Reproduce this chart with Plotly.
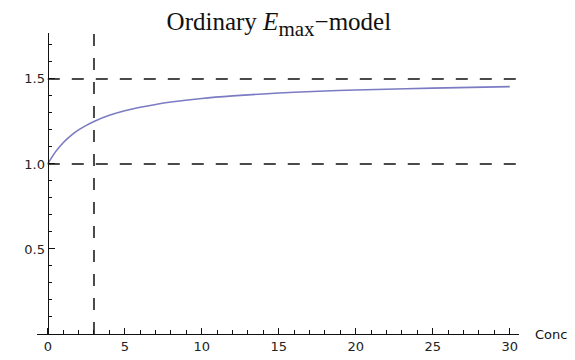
import plotly.graph_objects as go

# Data
conc = [0, 0.5, 1, 1.5, 2, 2.5, 3, 4, 5, 6, 7, 8, 10, 12, 15, 18, 20, 25, 30]
effect = [1.0, 1.071, 1.125, 1.167, 1.2, 1.227, 1.25, 1.286, 1.3125, 1.333, 1.35,
          1.364, 1.385, 1.4, 1.417, 1.429, 1.435, 1.446, 1.4545]
hlines = [1.0, 1.5]
vline = 3
xticks = [0, 5, 10, 15, 20, 25, 30]
yticks = [0.5, 1.0, 1.5]

XMIN, XMAX = -0.7, 30.6
YMIN, YMAX = 0, 1.77

fig = go.Figure()
fig.add_trace(go.Scatter(x=conc, y=effect, mode="lines", line_shape="spline",
                         line=dict(color="#7b7bc4", width=1.6), hoverinfo="skip",
                         showlegend=False))

dash_style = dict(color="#4a4a4a", width=2, dash="12px,12px")
for h in hlines:
    fig.add_shape(type="line", xref="x", yref="y", x0=0, x1=XMAX, y0=h, y1=h,
                  line=dash_style, layer="below")
fig.add_shape(type="line", xref="x", yref="y", x0=vline, x1=vline, y0=YMIN, y1=YMAX,
              line=dash_style, layer="below")

tickfont = dict(family="DejaVu Sans", size=13, color="#222")
fig.update_layout(
    width=575, height=360,
    margin=dict(l=37, r=56, t=33, b=26, autoexpand=False),
    plot_bgcolor="white", paper_bgcolor="white",
    title=dict(text="Ordinary <i>E</i><sub><span style='font-size:21px'>max</span></sub>\u2212model",
               x=0.485, xanchor="center", y=0.94, yanchor="middle",
               font=dict(family="Liberation Serif", size=25, color="#111")),
    xaxis=dict(range=[XMIN, XMAX], showgrid=False, zeroline=False, automargin=False,
               showline=True, linecolor="#111", linewidth=1.3,
               tickmode="array", tickvals=xticks, ticks="inside", ticklen=6,
               tickcolor="#111", tickwidth=1.2, tickfont=tickfont,
               minor=dict(dtick=1, tick0=0, ticks="inside", ticklen=3.5,
                          tickcolor="#111", tickwidth=1, showgrid=False)),
    yaxis=dict(range=[YMIN, YMAX], showgrid=False, zeroline=False, automargin=False,
               anchor="free", position=(0 - XMIN) / (XMAX - XMIN),
               showline=True, linecolor="#111", linewidth=1.3,
               tickmode="array", tickvals=yticks, ticktext=["0.5", "1.0", "1.5"],
               ticks="inside", ticklen=6, tickcolor="#111", tickwidth=1.2,
               tickfont=tickfont,
               minor=dict(dtick=0.1, tick0=0, ticks="inside", ticklen=3.5,
                          tickcolor="#111", tickwidth=1, showgrid=False)),
    annotations=[dict(text="Conc", xref="paper", yref="paper", x=1.0, y=0,
                      xanchor="left", yanchor="middle", xshift=14, showarrow=False,
                      font=dict(family="DejaVu Sans", size=13, color="#111"))],
)

fig.write_html("out.html", config={"displayModeBar": False},
               post_script="document.body.style.margin='0px';document.body.style.overflow='hidden';")
